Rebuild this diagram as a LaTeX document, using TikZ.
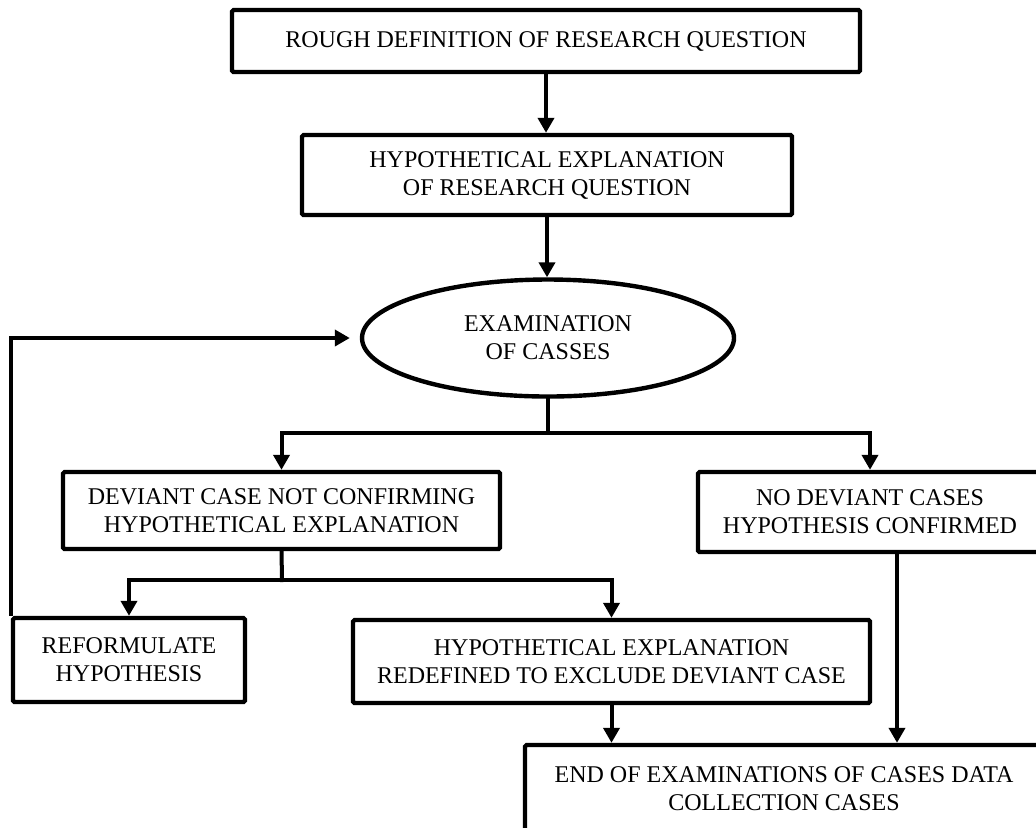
\documentclass[tikz,border=0pt]{standalone}
\usepackage{fontspec}
\setmainfont{Liberation Serif}
\usepackage{tikz}
\usetikzlibrary{calc}
\usetikzlibrary{shapes.geometric}
\usetikzlibrary{arrows.meta}
\tikzset{
  stepbox/.style={draw=black, line width=2.2pt, rounded corners=0.8pt, align=center, inner sep=0pt},
  oval/.style={ellipse, draw=black, line width=2.2pt, align=center, inner sep=0pt},
  flowline/.style={black, line width=2pt},
  flow/.style={flowline, -{Triangle[width=8pt,length=7.5pt]}},
}

\begin{document}
\begin{tikzpicture}[x=0.5pt, y=-0.5pt, font=\fontsize{12}{14}\selectfont]

%%%%%%%%%%%%%%%%%%%%%%%%%%%%%%%%%%%%%%%%%%%%%%%%%%%%%%%%%%%%%% Setup
\coordinate (C) at (0, 0);
% page size of the picture
\useasboundingbox ($(C)$) rectangle ($(C)+(1036, 827)$);
\clip ($(C)$) rectangle ($(C)+(1036, 827)$);

%%%%%%%%%%%%%%%%%%%%%%%%%%%%%%%%%%%%%%%%%%%%%%%%%%%%%%%%%%%%%% Boxes
\node[stepbox, minimum width=314pt, minimum height=31pt] (rough) at ($(C)+(546, 41)$)
  {ROUGH DEFINITION OF RESEARCH QUESTION};
\node[stepbox, minimum width=245pt, minimum height=40pt] (hypo) at ($(C)+(547, 175)$)
  {HYPOTHETICAL EXPLANATION\\OF RESEARCH QUESTION};
\node[oval, minimum width=186pt, minimum height=58.5pt] (exam) at ($(C)+(548, 338)$)
  {EXAMINATION\\OF CASSES};

\node[stepbox, minimum width=218.5pt, minimum height=38.5pt] (deviant) at ($(C)+(281.5, 510.5)$)
  {DEVIANT CASE NOT CONFIRMING\\HYPOTHETICAL EXPLANATION};
\node[stepbox, minimum width=172pt, minimum height=40pt] (nodev) at ($(C)+(870, 512)$)
  {NO DEVIANT CASES\\HYPOTHESIS CONFIRMED};

\node[stepbox, minimum width=116pt, minimum height=42pt] (reform) at ($(C)+(129, 660)$)
  {REFORMULATE\\HYPOTHESIS};
\node[stepbox, minimum width=258.5pt, minimum height=41.5pt] (redef) at ($(C)+(611.5, 661.5)$)
  {HYPOTHETICAL EXPLANATION\\REDEFINED TO EXCLUDE DEVIANT CASE};

\node[stepbox, minimum width=259pt, minimum height=43.5pt] (finish) at ($(C)+(784, 788.5)$)
  {END OF EXAMINATIONS OF CASES DATA\\COLLECTION CASES};

%%%%%%%%%%%%%%%%%%%%%%%%%%%%%%%%%%%%%%%%%%%%%%%%%%%%%%%%%%%%%% Arrows
\draw[flow] (rough.south) -- (rough.south |- hypo.north);
\draw[flow] (hypo.south) -- (hypo.south |- exam.north);

\coordinate (split1) at ($(C)+(548, 433)$);
\draw[flowline, line cap=rect] (exam.south) -- (split1);
\draw[flow] (split1) -| (deviant.north);
\draw[flow] (split1) -| (nodev.north);

\coordinate (split2) at ($(C)+(282, 580)$);
\draw[flowline, line cap=rect] (deviant.south) -- (split2);
\draw[flow] (split2) -| (reform.north);
\draw[flow] (split2) -| (redef.north);

% back to the examination
\draw[flow, shorten >=5pt] (reform.north west) |- (exam.west);

\draw[flow] (redef.south) -- (redef.south |- finish.north);
\coordinate (nodevout) at ($(nodev.south)+(27, 0)$);
\draw[flow] (nodevout) -- (nodevout |- finish.north);

\end{tikzpicture}
\end{document}
